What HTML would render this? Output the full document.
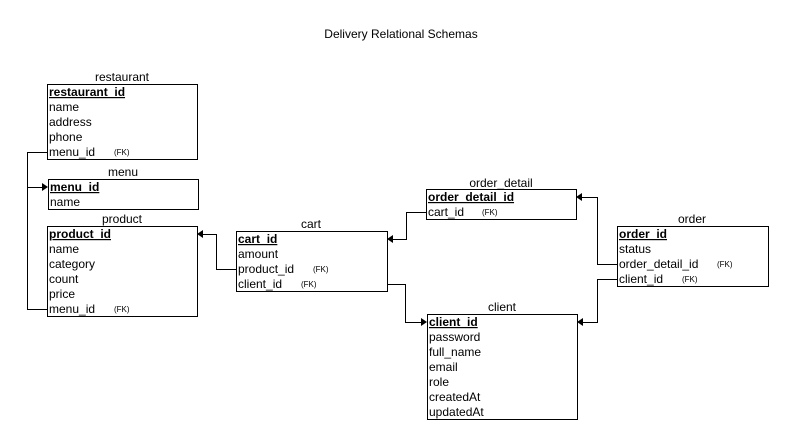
<!DOCTYPE html>
<html><head><meta charset="utf-8"><style>
html,body{margin:0;padding:0;background:#fff;}
svg{display:block;font-family:"Liberation Sans",Arial,sans-serif;}
.t{font-size:12px;fill:#000}
.b{font-size:12px;font-weight:bold;text-decoration:underline}
.fk{font-size:8px}
.h{font-size:12px;text-anchor:middle}
rect{fill:#fff;stroke:#000;stroke-width:1}
path.c{fill:none;stroke:#000;stroke-width:1}
</style></head><body>
<svg width="793" height="445" viewBox="0 0 793 445">
<text x="401" y="38" class="h">Delivery Relational Schemas</text>

<!-- connectors -->
<path class="c" d="M47.5 152.5H27.5V309.5H47.5"/>
<path class="c" d="M27.5 187.5H43"/>
<polygon points="48,187 42,183 42,191"/>
<path class="c" d="M236.5 269.5H216.5V234.5H202"/>
<polygon points="197,234 203,230 203,238"/>
<path class="c" d="M387.5 284.5H405.5V322.5H422"/>
<polygon points="427,322 421,318 421,326"/>
<path class="c" d="M426.5 212.5H406.5V239.5H392"/>
<polygon points="387,239 393,235 393,243"/>
<path class="c" d="M617.5 264.5H597.5V197.5H581"/>
<polygon points="576,197 582,193 582,201"/>
<path class="c" d="M617.5 279.5H597.5V322.5H582"/>
<polygon points="577,322 583,318 583,326"/>

<!-- restaurant -->
<text x="122" y="81" class="h">restaurant</text>
<rect x="47.5" y="84.5" width="150" height="75"/>
<text x="49" y="96" class="t b">restaurant_id</text>
<text x="49" y="111" class="t">name</text>
<text x="49" y="126" class="t">address</text>
<text x="49" y="141" class="t">phone</text>
<text x="49" y="156" class="t">menu_id</text><text x="114" y="155" class="fk">(FK)</text>

<!-- menu -->
<text x="123" y="176" class="h">menu</text>
<rect x="48.5" y="179.5" width="150" height="30"/>
<text x="50" y="191" class="t b">menu_id</text>
<text x="50" y="206" class="t">name</text>

<!-- product -->
<text x="122" y="223" class="h">product</text>
<rect x="47.5" y="226.5" width="150" height="90"/>
<text x="49" y="238" class="t b">product_id</text>
<text x="49" y="253" class="t">name</text>
<text x="49" y="268" class="t">category</text>
<text x="49" y="283" class="t">count</text>
<text x="49" y="298" class="t">price</text>
<text x="49" y="313" class="t">menu_id</text><text x="114" y="312" class="fk">(FK)</text>

<!-- cart -->
<text x="311" y="228" class="h">cart</text>
<rect x="236.5" y="231.5" width="151" height="60"/>
<text x="238" y="243" class="t b">cart_id</text>
<text x="238" y="258" class="t">amount</text>
<text x="238" y="273" class="t">product_id</text><text x="313" y="272" class="fk">(FK)</text>
<text x="238" y="288" class="t">client_id</text><text x="301" y="287" class="fk">(FK)</text>

<!-- order_detail -->
<text x="501" y="187" class="h">order_detail</text>
<rect x="426.5" y="189.5" width="150" height="30"/>
<text x="428" y="201" class="t b">order_detail_id</text>
<text x="428" y="216" class="t">cart_id</text><text x="482" y="215" class="fk">(FK)</text>

<!-- order -->
<text x="692" y="223" class="h">order</text>
<rect x="617.5" y="226.5" width="151" height="60"/>
<text x="619" y="238" class="t b">order_id</text>
<text x="619" y="253" class="t">status</text>
<text x="619" y="268" class="t">order_detail_id</text><text x="717" y="267" class="fk">(FK)</text>
<text x="619" y="283" class="t">client_id</text><text x="682" y="282" class="fk">(FK)</text>

<!-- client -->
<text x="502" y="311" class="h">client</text>
<rect x="427.5" y="314.5" width="150" height="105"/>
<text x="429" y="326" class="t b">client_id</text>
<text x="429" y="341" class="t">password</text>
<text x="429" y="356" class="t">full_name</text>
<text x="429" y="371" class="t">email</text>
<text x="429" y="386" class="t">role</text>
<text x="429" y="401" class="t">createdAt</text>
<text x="429" y="416" class="t">updatedAt</text>
</svg>
</body></html>
